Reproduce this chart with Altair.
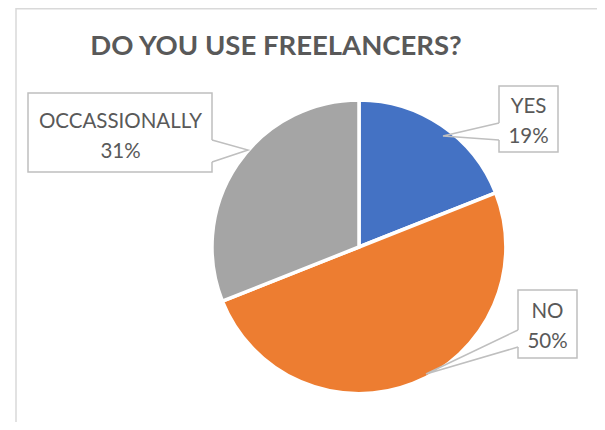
import altair as alt
import pandas as pd

# ---- data ----
categories = ["YES", "NO", "OCCASSIONALLY"]
percents = [19, 50, 31]
colors = ["#4472C4", "#ED7D31", "#A5A5A5"]
title_text = "DO YOU USE FREELANCERS?"

# ---- layout (canvas pixels) ----
W, H = 589, 414
CX, CY, R = 351, 239, 147
LAYOUT = {
    "YES": dict(x0=491, y0=78, x1=550, y1=144, tx=520.5, ty=105,
                ex=491, ey1=115, ey2=132, ax=435, ay=128),
    "NO": dict(x0=510, y0=282, x1=569, y1=350, tx=539.5, ty=310,
               ex=510, ey1=322, ey2=339, ax=418, ay=366),
    "OCCASSIONALLY": dict(x0=20, y0=85, x1=204, y1=164, tx=112.5, ty=120,
                          ex=204, ey1=132, ey2=154, ax=240, ay=142),
}

slices = pd.DataFrame({
    "category": categories,
    "pct": percents,
    "idx": list(range(len(categories))),
})
slices["label"] = [f"{c}\n{p}%" for c, p in zip(categories, percents)]

labels = slices.copy()
for k in ["x0", "y0", "x1", "y1", "tx", "ty", "ex", "ey1", "ey2"]:
    labels[k] = [LAYOUT[c][k] for c in categories]

line_rows = []
for c in categories:
    L = LAYOUT[c]
    line_rows += [
        dict(category=c, o=0, x=L["ex"], y=L["ey1"]),
        dict(category=c, o=1, x=L["ax"], y=L["ay"]),
        dict(category=c, o=2, x=L["ex"], y=L["ey2"]),
    ]
lines = pd.DataFrame(line_rows)

xs = alt.Scale(domain=[0, W], range=[0, W])
ys = alt.Scale(domain=[0, H], range=[0, H])
one = pd.DataFrame({"a": [0]})

frame = alt.Chart(one).mark_rect(filled=False, stroke="#D9D9D9", strokeWidth=1.5).encode(
    x=alt.value(8), x2=alt.value(W + 30), y=alt.value(0.75), y2=alt.value(H + 30)
)

pie = alt.Chart(slices).mark_arc(outerRadius=R, stroke="white", strokeWidth=3.5).encode(
    theta=alt.Theta("pct:Q", stack=True),
    color=alt.Color("category:N", scale=alt.Scale(domain=categories, range=colors), legend=None),
    order=alt.Order("idx:Q"),
    x=alt.value(CX),
    y=alt.value(CY),
)

boxes = alt.Chart(labels).mark_rect(fill="white", stroke="#BFBFBF", strokeWidth=1.5).encode(
    x=alt.X("x0:Q", scale=xs, axis=None),
    x2="x1:Q",
    y=alt.Y("y0:Q", scale=ys, axis=None),
    y2="y1:Q",
)

gaps = alt.Chart(labels).mark_rule(stroke="white", strokeWidth=2.2).encode(
    x=alt.X("ex:Q", scale=xs, axis=None),
    y=alt.Y("ey1:Q", scale=ys, axis=None),
    y2="ey2:Q",
)

leaders = alt.Chart(lines).mark_line(stroke="#BFBFBF", strokeWidth=1.5).encode(
    x=alt.X("x:Q", scale=xs, axis=None),
    y=alt.Y("y:Q", scale=ys, axis=None),
    detail="category:N",
    order="o:Q",
)

texts = alt.Chart(labels).mark_text(
    font="Lato", fontSize=20.5, color="#595959", lineBreak="\n", lineHeight=30,
    align="center", baseline="alphabetic",
).encode(
    x=alt.X("tx:Q", scale=xs, axis=None),
    y=alt.Y("ty:Q", scale=ys, axis=None),
    text="label:N",
)

title = alt.Chart(one).mark_text(
    font="Lato", fontSize=27.5, fontWeight="bold", color="#595959",
    align="center", baseline="alphabetic",
).encode(x=alt.value(268), y=alt.value(47), text=alt.value(title_text))

chart = alt.layer(frame, pie, boxes, gaps, leaders, texts, title).properties(
    width=W, height=H, padding=0, autosize="none", background="white"
).configure_view(stroke=None)

chart.save("out.html", embed_options={"renderer": "svg", "actions": False})
